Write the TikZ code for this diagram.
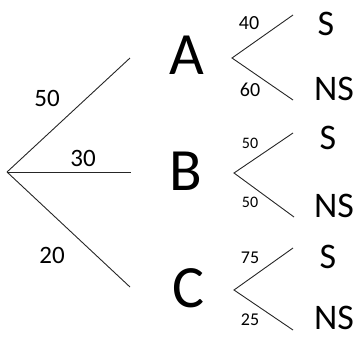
\documentclass[tikz,border=0pt]{standalone}
\usepackage{fontspec}
\setmainfont{Carlito}
\begin{document}
\begin{tikzpicture}[x=1pt,y=-1pt,
  branch/.style={draw=black!85,line width=0.9pt},
  big/.style={inner sep=0pt,font=\fontsize{60}{60}\selectfont},
  leaf/.style={inner sep=0pt,font=\fontsize{36}{36}\selectfont},
  lab/.style={inner sep=0pt,font=\fontsize{25}{25}\selectfont},
  slab/.style={inner sep=0pt,font=\fontsize{18}{18}\selectfont}]
\useasboundingbox (0,0) rectangle (358,338);
% root and first-level branch ends
\coordinate (r) at (7,172);
\coordinate (ea) at (130,58);
\coordinate (eb) at (131,172);
\coordinate (ec) at (130,287);
\draw[branch] (r) -- (ea);
\draw[branch] (r) -- (eb);
\draw[branch] (r) -- (ec);
\node[lab] (l50) at (47,98) {50};
\node[lab] (l30) at (83,158) {30};
\node[lab] (l20) at (52,255) {20};
% first-level events
\node[big] (A) at (187,55) {A};
\node[big] (B) at (186,171) {B};
\node[big] (C) at (188,288) {C};
% second-level vertices and ends
\coordinate (va) at (232,58);
\coordinate (vas) at (293,15);
\coordinate (van) at (293,100);
\coordinate (vb) at (234,173);
\coordinate (vbs) at (293,133);
\coordinate (vbn) at (294,217);
\coordinate (vc) at (234,290);
\coordinate (vcs) at (293,248);
\coordinate (vcn) at (293,330);
\draw[branch] (vas) -- (va) -- (van);
\draw[branch] (vbs) -- (vb) -- (vbn);
\draw[branch] (vcs) -- (vc) -- (vcn);
% labels
\node[slab,font=\fontsize{20}{20}\selectfont] (a40) at (249,23) {40};
\node[slab,font=\fontsize{20}{20}\selectfont] (a60) at (250,90) {60};
\node[slab,font=\fontsize{16}{16}\selectfont] (b50u) at (250,143) {50};
\node[slab,font=\fontsize{16}{16}\selectfont] (b50l) at (250,202) {50};
\node[slab] (c75) at (250,258) {75};
\node[slab] (c25) at (250,320) {25};
% leaves
\node[leaf] (AS) at (326,24) {S};
\node[leaf] (ANS) at (334,89) {NS};
\node[leaf] (BS) at (328,138) {S};
\node[leaf] (BNS) at (334,206) {NS};
\node[leaf] (CS) at (328,257) {S};
\node[leaf] (CNS) at (334,318) {NS};
\end{tikzpicture}
\end{document}
